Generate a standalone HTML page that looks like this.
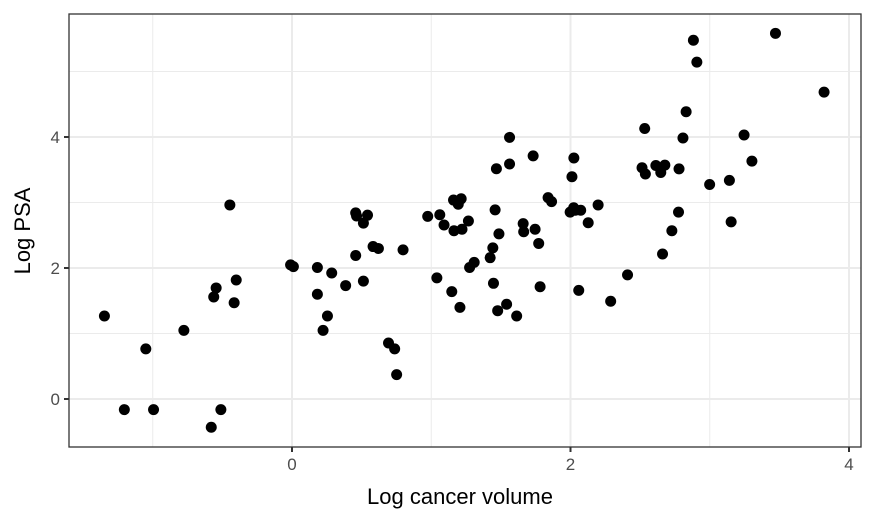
<!DOCTYPE html>
<html><head><meta charset="utf-8"><style>
body{margin:0;background:#fff}
svg{display:block;font-family:"Liberation Sans",Arial,sans-serif}
</style></head><body>
<svg id="chart" width="875" height="525">
<rect width="875" height="525" fill="#fff"/>
<g id="grid"></g><g id="pts"></g><g id="axes"></g>
<text x="460" y="504" text-anchor="middle" font-size="22" fill="#000">Log cancer volume</text>
<text transform="translate(30,231) rotate(-90)" text-anchor="middle" font-size="22" fill="#000">Log PSA</text>
</svg>
<script>
const lcavol=[-0.5798,-0.9943,-0.5108,-1.204,0.7514,-1.0498,0.7372,0.6931,-0.7765,0.2231,0.2546,-1.3471,1.6134,1.4770,1.2060,1.5412,-0.4155,2.2885,-0.5621,0.1823,1.1474,2.0592,-0.5447,1.7817,0.3853,1.4469,0.5128,-0.4005,1.0403,2.4096,0.2852,0.1823,1.2754,0.0100,-0.0101,1.3083,1.4231,0.4574,2.6610,0.7975,0.6206,1.4422,0.5822,1.7716,1.4861,1.6639,2.7279,1.1632,1.7457,1.2208,1.0919,1.6601,0.5128,2.1271,3.1536,1.2669,0.9746,0.4637,0.5423,1.0613,0.4574,1.9974,2.7757,2.0347,2.0732,1.4586,2.0229,2.1983,-0.4463,1.1939,1.8641,1.1600,1.2149,1.8390,2.9992,3.1411,2.0104,2.5377,2.6483,2.7794,1.4679,2.5137,2.6130,2.6776,1.5623,3.3028,2.0242,1.7317,2.8076,1.5623,3.2465,2.5329,2.8303,3.8210,2.9074,2.8826,3.4720];
const lpsa=[-0.4308,-0.1625,-0.1625,-0.1625,0.3716,0.7655,0.7655,0.8544,1.0473,1.0473,1.2669,1.2669,1.2669,1.3481,1.3987,1.4469,1.4702,1.4929,1.5581,1.5994,1.6390,1.6582,1.6956,1.7138,1.7317,1.7664,1.8001,1.8165,1.8485,1.8946,1.9242,2.0082,2.0082,2.0215,2.0477,2.0857,2.1576,2.1917,2.2138,2.2773,2.2976,2.3076,2.3273,2.3749,2.5217,2.5533,2.5688,2.5688,2.5915,2.5915,2.6568,2.6776,2.6844,2.6912,2.7047,2.7180,2.7881,2.7942,2.8064,2.8124,2.8420,2.8536,2.8536,2.8820,2.8820,2.8876,2.9205,2.9627,2.9627,2.9730,3.0131,3.0374,3.0564,3.0750,3.2753,3.3375,3.3928,3.4356,3.4579,3.5130,3.5160,3.5308,3.5653,3.5709,3.5877,3.6310,3.6801,3.7124,3.9843,3.9936,4.0298,4.1296,4.3851,4.6844,5.1431,5.4775,5.5829];
const xTicks=[0,2,4], xMinor=[-1,1,3];
const yTicks=[0,2,4], yMinor=[1,3,5];
const L=69,R=861,T=14,B=447;
const X=v=>292+v*139.25, Y=v=>399-v*65.5;
const NS="http://www.w3.org/2000/svg";
function mk(p,t,a){const e=document.createElementNS(NS,t);for(const k in a)e.setAttribute(k,a[k]);p.appendChild(e);return e;}
const g=document.getElementById('grid'),pg=document.getElementById('pts'),ax=document.getElementById('axes');
xMinor.forEach(v=>{const e=mk(g,'line',{x1:X(v),x2:X(v),y1:T,y2:B,stroke:'#ebebeb','stroke-width':1});

});
yMinor.forEach(v=>{const e=mk(g,'line',{x1:L,x2:R,y1:Y(v),y2:Y(v),stroke:'#ebebeb','stroke-width':1});

});
xTicks.forEach(v=>{const e=mk(g,'line',{x1:X(v),x2:X(v),y1:T,y2:B,stroke:'#ebebeb','stroke-width':2});


const t=mk(ax,'line',{x1:X(v),x2:X(v),y1:B,y2:B+5,stroke:'#333','stroke-width':2});


const l=mk(ax,'text',{x:X(v),y:B+23,'text-anchor':'middle','font-size':17,fill:'#4d4d4d'});l.textContent=v;

});
yTicks.forEach(v=>{const e=mk(g,'line',{x1:L,x2:R,y1:Y(v),y2:Y(v),stroke:'#ebebeb','stroke-width':2});


const t=mk(ax,'line',{x1:L-5,x2:L,y1:Y(v),y2:Y(v),stroke:'#333','stroke-width':2});


const l=mk(ax,'text',{x:L-9,y:Y(v)+6,'text-anchor':'end','font-size':17,fill:'#4d4d4d'});l.textContent=v;

});
lcavol.forEach((v,i)=>{const c=mk(pg,'circle',{cx:X(v),cy:Y(lpsa[i]),r:5.5,fill:'#000'});

});
const b=mk(ax,'rect',{x:L,y:T,width:R-L,height:B-T,fill:'none',stroke:'#333','stroke-width':1.3});


</script>
</body></html>
